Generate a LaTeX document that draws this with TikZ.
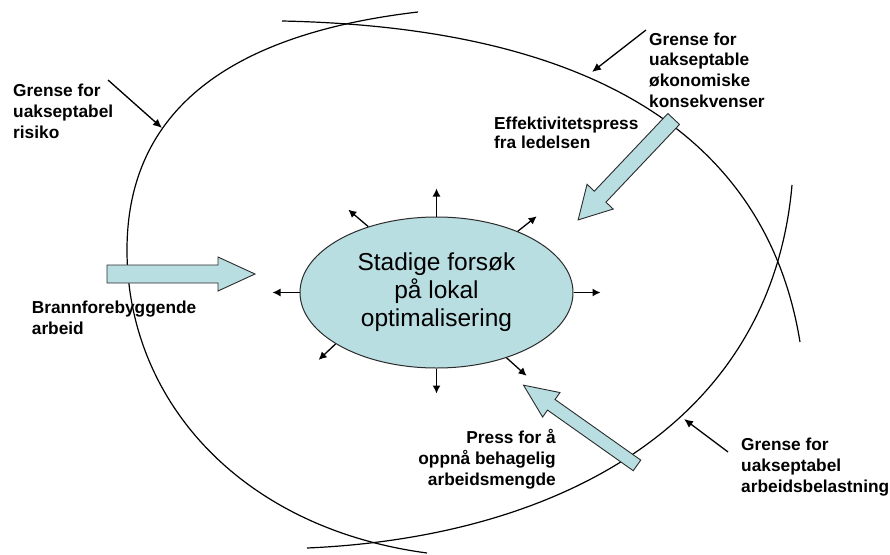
\documentclass[tikz,border=0pt]{standalone}
\usepackage{fontspec}
\setmainfont{Liberation Sans}
\usetikzlibrary{shapes.geometric,arrows.meta}
\definecolor{boxfill}{HTML}{B9DEE2}
\definecolor{edge}{HTML}{2B2B2B}
\tikzset{
  boundary/.style={line width=1.2pt, black},
  pointer/.style={line width=1.3pt, -{Latex[length=9pt,width=8pt]}},
  ray/.style={line width=1.3pt, -{Latex[length=8pt,width=8pt]}},
  barrow/.style={fill=boxfill, draw=edge, line width=0.9pt, line join=miter},
  note/.style={font=\fontsize{17.3}{21}\selectfont\bfseries, inner sep=0pt, align=left},
  core/.style={ellipse, fill=boxfill, draw=edge, line width=1pt,
    minimum width=273pt, minimum height=151pt, inner sep=0pt, align=center,
    font=\fontsize{24.5}{28}\selectfont},
  pics/blockarrow/.style args={#1/#2/#3/#4}{code={
    \draw[barrow] (0,-#2/2) -- (#1-#4,-#2/2) -- (#1-#4,-#3/2) -- (#1,0)
      -- (#1-#4,#3/2) -- (#1-#4,#2/2) -- (0,#2/2) -- cycle;}}
}
\begin{document}
\begin{tikzpicture}[x=1pt,y=-1pt]
% canvas
\fill[white] (0,0) rectangle (890,554);

% boundary of unacceptable risk
\draw[boundary] (418,12) .. controls (230,34) and (127,110) .. (127,250)
  .. controls (127,400) and (240,528) .. (427,553);
% boundary of unacceptable economic consequences
\draw[boundary] (282,21) .. controls (622,28) and (770,157) .. (800,342);
% boundary of unacceptable workload
\draw[boundary] (792,185) .. controls (771,425) and (557,537.2) .. (307,548);

% pressure arrows
\coordinate (brannTail) at (107,274);
\pic[rotate=0] at (brannTail) {blockarrow=148/18/34/37};
\coordinate (effTail) at (673.7,119);
\pic[rotate=226.55] at (effTail) {blockarrow=139/16/36/32};
\coordinate (pressTail) at (637,465.4);
\pic[rotate=144.74] at (pressTail) {blockarrow=139/13/30/34};

% local optimisation
\node[core] (ell) at (436.5,292.5) {Stadige forsøk\\på lokal\\optimalisering};
\draw[ray] (ell.north) -- ++(0,-28);
\draw[ray] (ell.south) -- ++(0,25);
\draw[ray] (ell.west) -- ++(-27,0);
\draw[ray] (ell.east) -- ++(27,0);
\draw[ray] (ell.136) -- ++(-20,-17);
\draw[ray] (ell.37) -- ++(19,-15);
\draw[ray] (ell.207) -- ++(-17,16);
\draw[ray] (ell.-43) -- ++(20,18);

% boundary labels with pointers
\node[note, anchor=north west] (riskText) at (13,83.4) {Grense for\\uakseptabel\\risiko};
\coordinate (riskTail) at (108,80);
\coordinate (riskMark) at (162,128);
\draw[pointer] (riskTail) -- (riskMark);

\node[note, anchor=north west, font=\fontsize{17.3}{20.7}\selectfont\bfseries] (econText) at (649,32.4)
  {Grense for\\uakseptable\\økonomiske\\konsekvenser};
\coordinate (econTail) at (646,30);
\coordinate (econMark) at (592,72);
\draw[pointer] (econTail) -- (econMark);

\node[note, anchor=north west] (workText) at (741,437.4)
  {Grense for\\uakseptabel\\arbeidsbelastning};
\coordinate (workTail) at (728,452);
\coordinate (workMark) at (684,419);
\draw[pointer] (workTail) -- (workMark);

% pressure labels
\node[note, anchor=north west, font=\fontsize{17.3}{19.5}\selectfont\bfseries] (effText) at (494,116.7)
  {Effektivitetspress\\fra ledelsen};
\node[note, anchor=north west] (brannText) at (31.7,300.7) {Brannforebyggende\\arbeid};
\node[note, anchor=north east, align=right] (pressText) at (556,429.4)
  {Press for å\\oppnå behagelig\\arbeidsmengde};
\end{tikzpicture}
\end{document}
